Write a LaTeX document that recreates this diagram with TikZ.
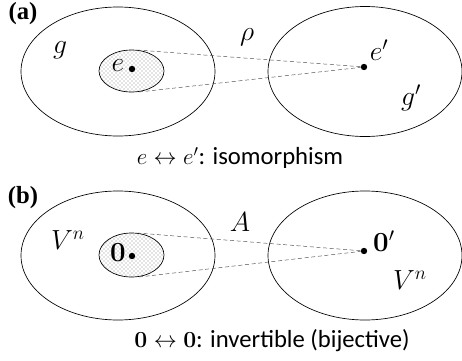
\documentclass[tikz,border=0pt]{standalone}
\usepackage[no-math]{fontspec}
\setmainfont{Carlito}
\newfontfamily\panelfont{Liberation Serif}
\usetikzlibrary{patterns}

\tikzset{
  setline/.style={draw, line width=0.5pt},
  subset/.style={draw, line width=0.5pt, pattern=crosshatch dots, pattern color=black!45},
  ray/.style={densely dashed, line width=0.35pt, black!70},
  pt/.style={circle, fill, inner sep=0pt, minimum size=4.8pt},
  lbl/.style={font=\fontsize{20}{22}\selectfont, inner sep=1pt},
  captext/.style={font=\fontsize{18.5}{20}\selectfont, inner sep=1pt},
  tag/.style={font=\fontsize{18.5}{20}\panelfont\bfseries, inner sep=0pt}
}

\begin{document}
\begin{tikzpicture}[x=0.75pt, y=-0.75pt]
  \useasboundingbox (0,0) rectangle (462,361);
  % (a) groups
  \node[tag] (ta) at (23,14) {(a)};
  \draw[setline] (118,71.5) ellipse (97 and 64.5);
  \draw[setline] (365,71.5) ellipse (97 and 65);
  \draw[subset] (131.5,71) ellipse (32.5 and 21);
  \coordinate (at) at (137,50);
  \coordinate (ab) at (139,92);
  \node[pt] (e) at (132,69) {};
  \node[pt] (e2) at (364,67) {};
  \draw[ray] (at) -- (e2);
  \draw[ray] (ab) -- (e2);
  \node[lbl] at (118,66) {$e$};
  \node[lbl] at (379,50) {$e'$};
  \node[lbl] at (60,50) {$g$};
  \node[lbl] at (411,98) {$g'$};
  \node[lbl] at (247,37) {$\rho$};
  \node[captext] (ca) at (240,158) {$e \leftrightarrow e'$: isomorphism};
  % (b) vector spaces
  \node[tag] (tb) at (23,198) {(b)};
  \draw[setline] (118,255.5) ellipse (97 and 64.5);
  \draw[setline] (365,255.5) ellipse (97 and 64.5);
  \draw[subset] (131.5,255) ellipse (32.5 and 22);
  \coordinate (bt) at (137,233);
  \coordinate (bb) at (139,277);
  \node[pt] (z) at (132,256) {};
  \node[pt] (z2) at (364,251) {};
  \draw[ray] (bt) -- (z2);
  \draw[ray] (bb) -- (z2);
  \node[lbl] at (118,253) {$\mathbf{0}$};
  \node[lbl] at (384,241) {$\mathbf{0}'$};
  \node[lbl] at (68,240) {$V^n$};
  \node[lbl] at (410,280) {$V^n$};
  \node[lbl] at (240,222) {$A$};
  \node[captext] (cb) at (272,341) {$\mathbf{0} \leftrightarrow \mathbf{0}$: invertible (bijective)};
\end{tikzpicture}
\end{document}
